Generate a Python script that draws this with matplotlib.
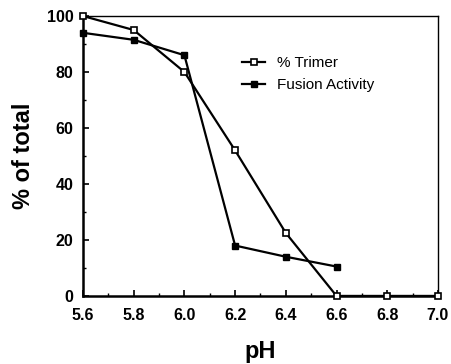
import matplotlib
matplotlib.use('Agg')
import matplotlib.pyplot as plt
from matplotlib.ticker import MultipleLocator

plt.rcParams['font.family'] = ['Liberation Sans', 'DejaVu Sans']

# data
ph_trimer = [5.6, 5.8, 6.0, 6.2, 6.4, 6.6, 6.8, 7.0]
trimer = [100, 95, 80, 52, 22.5, 0, 0, 0]
ph_fusion = [5.6, 5.8, 6.0, 6.2, 6.4, 6.6]
fusion = [94, 91.5, 86, 18, 14, 10.5]
xticks = [5.6, 5.8, 6.0, 6.2, 6.4, 6.6, 6.8, 7.0]
xticklabels = ['5.6', '5.8', '6.0', '6.2', '6.4', '6.6', '6.8', '7.0']
yticks = [0, 20, 40, 60, 80, 100]

fig = plt.figure(figsize=(4.51, 3.64), dpi=100)
ax = fig.add_axes([0.184, 0.187, 0.787, 0.769])

ax.plot(ph_trimer, trimer, '-s', color='black', lw=1.6, ms=5,
        mfc='white', mec='black', mew=1.2, label='% Trimer', clip_on=False, zorder=3)
ax.plot(ph_fusion, fusion, '-s', color='black', lw=1.6, ms=5,
        mfc='black', mec='black', label='Fusion Activity', clip_on=False, zorder=3)

ax.set_xlim(5.6, 7.0)
ax.set_ylim(0, 100)
ax.set_xticks(xticks)
ax.set_xticklabels(xticklabels)
ax.set_yticks(yticks)
ax.xaxis.set_minor_locator(MultipleLocator(0.1))
ax.yaxis.set_minor_locator(MultipleLocator(10))
ax.tick_params(which='both', direction='in', top=False, right=False)
ax.tick_params(which='major', length=4, width=1.2, labelsize=11.5)
ax.tick_params(axis='x', which='major', pad=9)
ax.tick_params(axis='y', which='major', pad=7)
ax.tick_params(which='minor', length=2.5, width=1)
for lab in ax.get_xticklabels() + ax.get_yticklabels():
    lab.set_fontweight('bold')

ax.spines['left'].set_linewidth(1.8)
ax.spines['bottom'].set_linewidth(1.8)
ax.spines['top'].set_linewidth(1.0)
ax.spines['right'].set_linewidth(1.0)

ax.set_xlabel('pH', fontsize=17, fontweight='bold', labelpad=12)
ax.set_ylabel('% of total', fontsize=17, fontweight='bold', labelpad=8)

ax.legend(loc='upper left', bbox_to_anchor=(0.41, 0.905), frameon=False,
          fontsize=11, handlelength=1.5, handletextpad=0.8, labelspacing=0.5)

fig.savefig('out.png', dpi=100)
